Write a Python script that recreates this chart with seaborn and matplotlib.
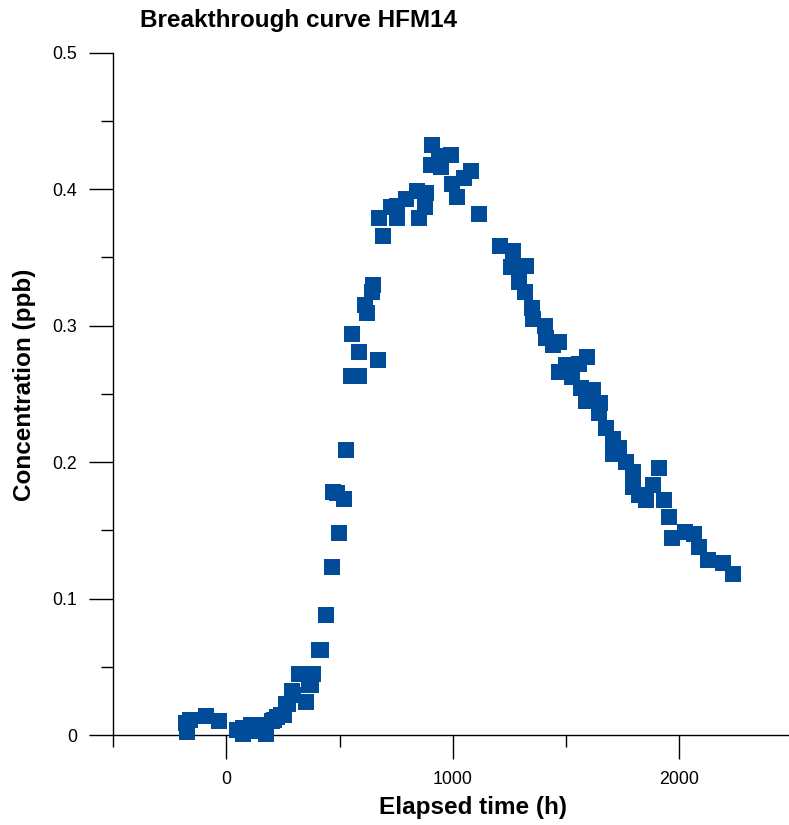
import matplotlib
matplotlib.use("Agg")
import matplotlib.pyplot as plt
import seaborn as sns
import pandas as pd
from matplotlib.ticker import FixedLocator

# Elapsed time (h) and tracer concentration (ppb) for HFM14
elapsed_h = [
    -178, -172, -160, -90, -31,
    49, 72, 75, 109, 115, 153, 168, 175, 204, 212, 226, 241, 256, 263, 271,
    292, 293, 322, 352, 366, 374, 381, 411, 420, 440, 466, 472, 490, 499,
    521, 528, 550, 557, 587, 587, 614, 620, 643, 649, 670, 675, 693, 727,
    755, 755, 793, 843, 852, 879, 882, 904, 908, 940, 948, 992, 998, 1020,
    1051, 1080, 1117, 1208, 1257, 1267, 1290, 1319, 1323, 1350, 1352, 1408,
    1411, 1441, 1467, 1470, 1500, 1526, 1556, 1566, 1588, 1591, 1617, 1647,
    1650, 1676, 1706, 1706, 1735, 1765, 1794, 1797, 1823, 1853, 1885, 1912,
    1934, 1953, 1968, 2026, 2066, 2085, 2125, 2191, 2238,
]
concentration_ppb = [
    0.009, 0.002, 0.011, 0.014, 0.010,
    0.004, 0.005, 0.001, 0.007, 0.003, 0.007, 0.003, 0.001, 0.010, 0.011,
    0.013, 0.015, 0.015, 0.023, 0.023,
    0.032, 0.029, 0.045, 0.024, 0.037, 0.037, 0.045, 0.062, 0.062, 0.088,
    0.123, 0.178, 0.177, 0.148,
    0.173, 0.209, 0.263, 0.294, 0.263, 0.281, 0.315, 0.309, 0.325, 0.330,
    0.275, 0.379, 0.366, 0.387,
    0.388, 0.379, 0.393, 0.399, 0.379, 0.387, 0.397, 0.418, 0.432, 0.424,
    0.416, 0.425, 0.404, 0.394,
    0.408, 0.413, 0.382, 0.358, 0.343, 0.355, 0.332, 0.325, 0.344, 0.313,
    0.305, 0.300,
    0.291, 0.286, 0.288, 0.266, 0.271, 0.262, 0.272, 0.254, 0.245, 0.277,
    0.253, 0.236,
    0.243, 0.225, 0.217, 0.206, 0.210, 0.200, 0.182, 0.193, 0.176, 0.172,
    0.183, 0.196,
    0.172, 0.160, 0.144, 0.149, 0.147, 0.138, 0.128, 0.126, 0.118,
]

x_major = [0, 1000, 2000]
x_minor = [-500, 500, 1500]
y_major = [0, 0.1, 0.2, 0.3, 0.4, 0.5]
y_major_labels = ["0", "0.1", "0.2", "0.3", "0.4", "0.5"]
y_minor = [0.05, 0.15, 0.25, 0.35, 0.45]

df = pd.DataFrame({"Elapsed time (h)": elapsed_h,
                   "Concentration (ppb)": concentration_ppb})

sns.set_style("ticks")
plt.rcParams["font.family"] = ["Liberation Sans", "DejaVu Sans"]
plt.rcParams["text.color"] = "black"
plt.rcParams["axes.labelcolor"] = "black"

W, H = 789, 825
fig = plt.figure(figsize=(W / 100, H / 100), dpi=100)
ax = fig.add_axes([113 / W, (H - 735) / H, (W - 113) / W, (735 - 52.7) / H])

sns.scatterplot(data=df, x="Elapsed time (h)", y="Concentration (ppb)",
                marker="s", s=135, color="#004C99", linewidth=0,
                clip_on=False, zorder=3, ax=ax, legend=False)

ax.set_xlim(-500, 2484)
ax.set_ylim(0, 0.5)

ax.xaxis.set_major_locator(FixedLocator(x_major))
ax.xaxis.set_minor_locator(FixedLocator(x_minor))
ax.set_xticklabels([str(v) for v in x_major])
ax.yaxis.set_major_locator(FixedLocator(y_major))
ax.yaxis.set_minor_locator(FixedLocator(y_minor))
ax.set_yticklabels(y_major_labels)

ax.tick_params(axis="both", which="major", length=17, width=1.0,
               color="black", labelsize=12.8, labelcolor="black")
ax.tick_params(axis="both", which="minor", length=8.6, width=1.0,
               color="black")
ax.tick_params(axis="y", which="major", pad=9)
ax.tick_params(axis="x", which="major", pad=9)

for side in ("top", "right"):
    ax.spines[side].set_visible(False)
for side in ("left", "bottom"):
    ax.spines[side].set_linewidth(1.0)
    ax.spines[side].set_color("black")

ax.set_xlabel("Elapsed time (h)", fontsize=17.5, fontweight="bold",
              color="black")
ax.set_ylabel("Concentration (ppb)", fontsize=17.5, fontweight="bold",
              color="black")
ax.xaxis.set_label_coords(0.5325, -0.089)
ax.yaxis.set_label_coords(-0.114, 0.513)

fig.text(140 / W, 1 - 27 / H, "Breakthrough curve HFM14", fontsize=17.5,
         fontweight="bold", ha="left", va="baseline", color="black")

fig.savefig("out.png", dpi=100)
